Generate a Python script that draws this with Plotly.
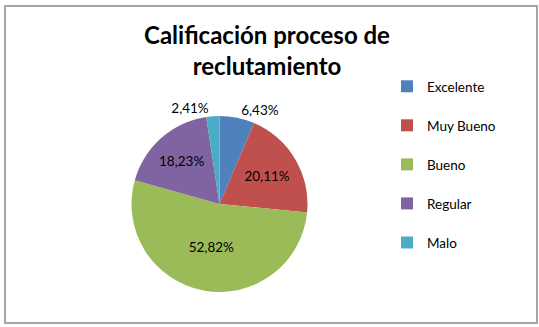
import plotly.graph_objects as go

categories = ["Excelente", "Muy Bueno", "Bueno", "Regular", "Malo"]
values = [6.43, 20.11, 52.82, 18.23, 2.41]
colors = ["#4F81BD", "#C0504D", "#9BBB59", "#8064A2", "#4BACC6"]
text_positions = ["outside", "inside", "inside", "inside", "outside"]
title_text = "Calificación proceso de<br>reclutamiento"

W, H = 539, 327
FONT = "Lato"

fig = go.Figure()
fig.add_trace(go.Pie(
    labels=categories,
    values=values,
    sort=False,
    direction="clockwise",
    rotation=0,
    marker=dict(colors=colors, line=dict(color="white", width=0)),
    texttemplate="%{percent:.2%}",
    textposition=text_positions,
    textfont=dict(family=FONT, size=13.5, color="#000000"),
    insidetextorientation="horizontal",
    showlegend=False,
    domain=dict(x=[131.5 / W, 307.5 / W], y=[35 / H, 211 / H]),
))

for name, c in zip(categories, colors):
    fig.add_trace(go.Scatter(
        x=[None], y=[None], mode="markers", name=name, legendgroup=name,
        marker=dict(symbol="square", size=8, color=c),
    ))

fig.update_layout(
    width=W, height=H,
    margin=dict(l=0, r=0, t=0, b=0),
    paper_bgcolor="white", plot_bgcolor="white",
    separators=",.",
    title=dict(text=title_text, x=267 / W, xanchor="center", xref="paper",
               y=1 - 44 / H, yanchor="top", yref="container",
               font=dict(family=FONT, size=24, color="#000000", weight="bold")),
    xaxis=dict(visible=False),
    yaxis=dict(visible=False),
    legend=dict(x=387 / W, xanchor="left", y=1 - 71 / H, yanchor="top",
                font=dict(family=FONT, size=13.5, color="#000000"),
                tracegroupgap=18.5, itemsizing="constant",
                bgcolor="rgba(0,0,0,0)"),
    shapes=[dict(type="rect", xref="paper", yref="paper",
                 x0=5 / W, x1=537 / W, y0=4 / H, y1=321 / H,
                 line=dict(color="#A6A6A6", width=2))],
)

fig.write_html("out.html")
